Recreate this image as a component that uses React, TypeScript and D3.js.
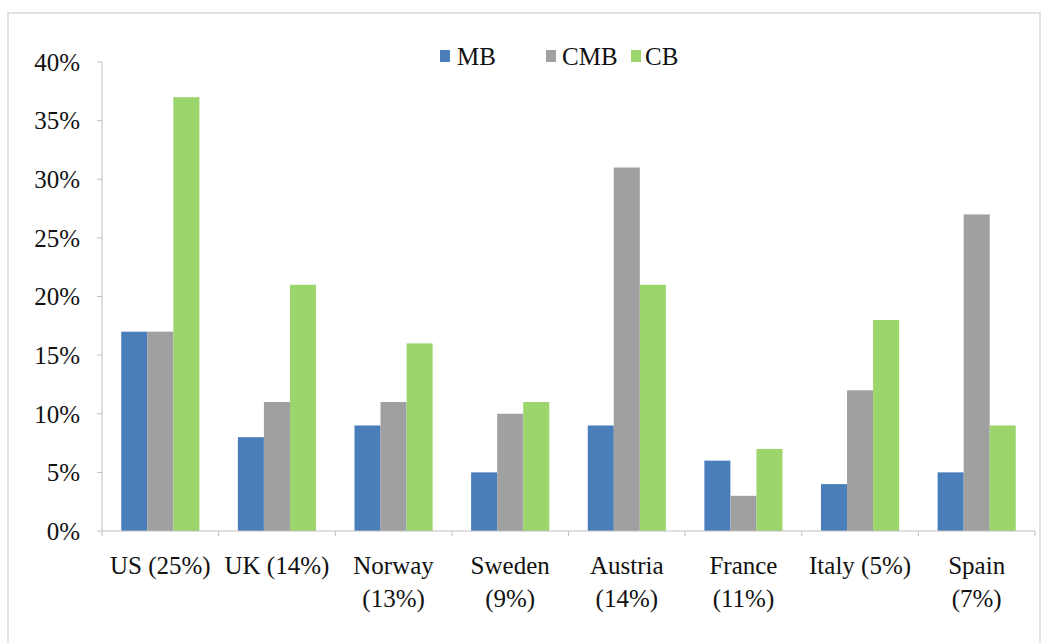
import React from "react";
import * as d3 from "d3";

const categories: string[][] = [
  ["US (25%)"],
  ["UK (14%)"],
  ["Norway", "(13%)"],
  ["Sweden", "(9%)"],
  ["Austria", "(14%)"],
  ["France", "(11%)"],
  ["Italy (5%)"],
  ["Spain", "(7%)"],
];
const seriesNames = ["MB", "CMB", "CB"];
const mb = [17, 8, 9, 5, 9, 6, 4, 5];
const cmb = [17, 11, 11, 10, 31, 3, 12, 27];
const cb = [37, 21, 16, 11, 21, 7, 18, 9];
const yTicks = [0, 5, 10, 15, 20, 25, 30, 35, 40];
const colors = ["#4A7EBB", "#A0A0A0", "#9BD56C"];

const W = 1045;
const H = 643;
const left = 102;
const right = 1035;
const top = 62;
const bottom = 531;
const FONT = '"Liberation Serif", "Times New Roman", serif';

export default function App() {
  const series = [mb, cmb, cb];
  const x0 = d3
    .scaleBand<number>()
    .domain(categories.map((_, i) => i))
    .range([left, right])
    .paddingInner(0.33)
    .paddingOuter(0.165);
  const x1 = d3
    .scaleBand<number>()
    .domain([0, 1, 2])
    .range([0, x0.bandwidth()]);
  const y = d3.scaleLinear().domain([0, 40]).range([bottom, top]);
  const step = (right - left) / categories.length;
  const legendItems = [
    { x: 440, tx: 457 },
    { x: 546, tx: 562 },
    { x: 631, tx: 645 },
  ];
  const txt = { fontFamily: FONT, fontSize: 25, fill: "#111" } as const;

  return (
    <svg
      width={W}
      height={H}
      style={{ position: "absolute", left: 0, top: 0, background: "#fff" }}
    >
      <rect x={8} y={13} width={1032} height={640} fill="#fff" stroke="#d9d9d9" strokeWidth={1.5} />
      {/* y axis */}
      <line x1={left} x2={left} y1={top} y2={bottom} stroke="#bfbfbf" />
      {yTicks.map((t) => (
        <g key={t}>
          <line x1={left - 5} x2={left} y1={y(t)} y2={y(t)} stroke="#bfbfbf" />
          <text x={80} y={y(t)} dy="0.35em" textAnchor="end" style={txt}>
            {t}%
          </text>
        </g>
      ))}
      {/* bars */}
      {categories.map((_, i) =>
        series.map((s, j) => (
          <rect
            key={`${i}-${j}`}
            x={(x0(i) as number) + (x1(j) as number)}
            y={y(s[i])}
            width={x1.bandwidth()}
            height={bottom - y(s[i])}
            fill={colors[j]}
          />
        ))
      )}
      {/* x axis */}
      <line x1={left} x2={right} y1={bottom} y2={bottom} stroke="#bfbfbf" />
      {d3.range(categories.length + 1).map((k) => (
        <line
          key={k}
          x1={left + k * step}
          x2={left + k * step}
          y1={bottom}
          y2={bottom + 5}
          stroke="#bfbfbf"
        />
      ))}
      {categories.map((lines, i) => (
        <text
          key={i}
          x={(x0(i) as number) + x0.bandwidth() / 2}
          y={574}
          textAnchor="middle"
          style={txt}
        >
          {lines.map((ln, k) => (
            <tspan key={k} x={(x0(i) as number) + x0.bandwidth() / 2} dy={k === 0 ? 0 : 33}>
              {ln}
            </tspan>
          ))}
        </text>
      ))}
      {/* legend */}
      {seriesNames.map((n, j) => (
        <g key={n}>
          <rect x={legendItems[j].x} y={50} width={10} height={12} fill={colors[j]} />
          <text x={legendItems[j].tx} y={65} style={txt}>
            {n}
          </text>
        </g>
      ))}
    </svg>
  );
}
